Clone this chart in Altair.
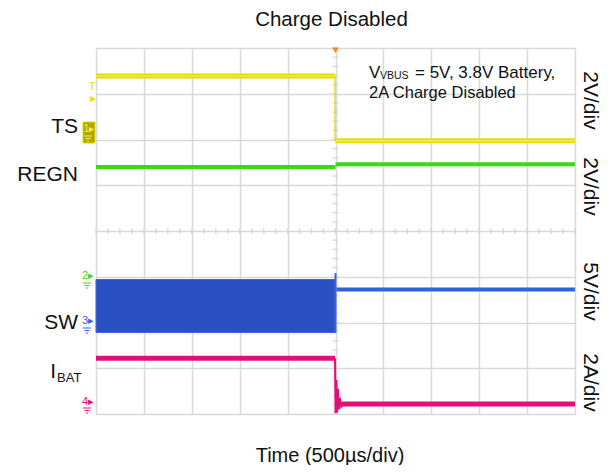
import altair as alt
import pandas as pd

# ---- data (time in divisions 0..10 at 500 µs/div, amplitude in screen divisions 0..8)
ts_high_x = [0.0, 4.99]
ts_high_y = [7.39, 7.39]
ts_edge_x = [4.99, 4.99]
ts_edge_y = [7.39, 5.97]
ts_low_x = [5.0, 10.0]
ts_low_y = [5.97, 5.97]

regn_before_x = [0.0, 5.0]
regn_before_y = [5.40, 5.40]
regn_after_x = [5.0, 10.0]
regn_after_y = [5.46, 5.46]

sw_band_x = [0.0, 5.0]
sw_band_lo = [1.78, 1.78]
sw_band_hi = [2.94, 2.94]
sw_edge_x = [5.0, 5.0]
sw_edge_y = [1.78, 3.08]
sw_after_x = [5.02, 10.0]
sw_after_y = [2.72, 2.72]

ibat_before_x = [0.0, 4.99]
ibat_before_y = [1.22, 1.22]
ibat_edge_x = [4.99, 5.0, 5.02, 5.03, 5.05, 5.07, 5.09, 5.12, 5.16]
ibat_edge_y = [1.22, 0.02, 0.75, 0.03, 0.55, 0.10, 0.35, 0.16, 0.22]
ibat_after_x = [5.1, 10.0]
ibat_after_y = [0.22, 0.22]

grid_x = list(range(0, 11))
grid_y = list(range(0, 9))
minor_x = [i / 4 for i in range(0, 41)]
minor_y = [i / 5 for i in range(0, 41)]

left_labels = ["TS", "REGN", "SW"]
right_labels = ["2V/div", "2V/div", "5V/div", "2A/div"]

W, H = 479, 366
XS = alt.Scale(domain=[0, 10], nice=False, zero=False)
YS = alt.Scale(domain=[0, 8], nice=False, zero=False)
XAX = alt.Axis(values=grid_x, labels=False, ticks=False, domain=False, title=None,
               grid=True, gridColor="#d9d9d9", gridWidth=1.5)
YAX = alt.Axis(values=grid_y, labels=False, ticks=False, domain=False, title=None,
               grid=True, gridColor="#d9d9d9", gridWidth=1.5)


def line(xs, ys, color, width):
    df = pd.DataFrame({"x": xs, "y": ys, "o": list(range(len(xs)))})
    return alt.Chart(df).mark_line(color=color, strokeWidth=width, clip=False).encode(
        x=alt.X("x:Q", scale=XS, axis=XAX),
        y=alt.Y("y:Q", scale=YS, axis=YAX),
        order="o:Q",
    )


ticks_h = alt.Chart(pd.DataFrame({"x": minor_x, "y": [4] * len(minor_x)})).mark_tick(
    orient="vertical", size=6, thickness=1.5, color="#d0d0d0"
).encode(x=alt.X("x:Q", scale=XS, axis=XAX), y=alt.Y("y:Q", scale=YS, axis=YAX))
ticks_v = alt.Chart(pd.DataFrame({"x": [5] * len(minor_y), "y": minor_y})).mark_tick(
    orient="horizontal", size=6, thickness=1.5, color="#d0d0d0"
).encode(x=alt.X("x:Q", scale=XS, axis=XAX), y=alt.Y("y:Q", scale=YS, axis=YAX))

band_df = pd.DataFrame({"x": [sw_band_x[0]], "x2": [sw_band_x[1]],
                        "lo": [sw_band_lo[0]], "hi": [sw_band_hi[0]]})
band = alt.Chart(band_df).mark_rect(color="#2a50c4", stroke="#3a66dc", strokeWidth=1).encode(
    x=alt.X("x:Q", scale=XS, axis=XAX), x2="x2:Q",
    y=alt.Y("lo:Q", scale=YS, axis=YAX), y2="hi:Q",
)

trig = alt.Chart(pd.DataFrame({"x": [5.0], "y": [7.95]})).mark_point(
    shape="triangle-down", filled=True, size=45, color="#f08c1e", opacity=1
).encode(x=alt.X("x:Q", scale=XS, axis=XAX), y=alt.Y("y:Q", scale=YS, axis=YAX))

layers = [
    ticks_h, ticks_v,
    band,
    line(sw_edge_x, sw_edge_y, "#3a66dc", 2),
    line(sw_after_x, sw_after_y, "#2f62e0", 4),
    line(ts_high_x, ts_high_y, "#e6dc00", 5),
    line(ts_high_x, ts_high_y, "#f2ec50", 1.5),
    line(ts_edge_x, ts_edge_y, "#d8d000", 1.2),
    line(ts_low_x, ts_low_y, "#e6dc00", 5),
    line(ts_low_x, ts_low_y, "#f2ec50", 1.5),
    line(regn_before_x, regn_before_y, "#33dd11", 4),
    line(regn_after_x, regn_after_y, "#33dd11", 4),
    line(ibat_before_x, ibat_before_y, "#e0107a", 5),
    line(ibat_edge_x, ibat_edge_y, "#e0107a", 2),
    line(ibat_after_x, ibat_after_y, "#e0107a", 5),
    trig,
]

# ---- text (pixel positions relative to plot origin at page (96, 48))
def txt(s, px, py, size=21, align="center", baseline="middle", angle=0, color="#111111"):
    t = alt.Chart(pd.DataFrame({"t": [s]})).mark_text(
        text=s, fontSize=size, font="Liberation Sans", align=align, baseline=baseline,
        angle=angle, color=color,
    ).encode(x=alt.value(px - 96), y=alt.value(py - 48))
    return t


def box(x1, x2, y1, y2, fill, stroke):
    return alt.Chart(pd.DataFrame({"a": [0]})).mark_rect(
        color=fill, stroke=stroke, strokeWidth=1, opacity=1
    ).encode(x=alt.value(x1 - 96), x2=alt.value(x2 - 96),
             y=alt.value(y1 - 48), y2=alt.value(y2 - 48))


def ground(cx, cy, color):
    # tiny ground symbol: three shrinking bars
    out = []
    for dy, half in ((0, 4), (2.5, 2.5), (5, 1)):
        out.append(alt.Chart(pd.DataFrame({"a": [0]})).mark_rule(color=color, strokeWidth=1).encode(
            x=alt.value(cx - half - 96), x2=alt.value(cx + half - 96), y=alt.value(cy + dy - 48)))
    return out


layers += [
    txt("Charge Disabled", 331.5, 19.5, size=20.5),
    txt("Time (500µs/div)", 330, 455.5, size=20),
    txt(left_labels[0], 78, 127, align="right"),
    txt(left_labels[1], 78, 175, align="right"),
    txt(left_labels[2], 78, 323, align="right"),
    txt("I", 56, 372, align="right"),
    txt("BAT", 57, 378, size=13, align="left"),
    txt(right_labels[0], 590, 100.5, angle=90),
    txt(right_labels[1], 590, 186.5, angle=90),
    txt(right_labels[2], 590, 291.5, angle=90),
    txt(right_labels[3], 590, 382.5, angle=90),
    txt("V", 369, 77.5, size=17, align="left", baseline="alphabetic"),
    txt("VBUS", 380, 79, size=10.5, align="left", baseline="alphabetic"),
    txt("= 5V, 3.8V Battery,", 415, 77.5, size=17, align="left", baseline="alphabetic"),
    txt("2A Charge Disabled", 369, 98, size=16.5, align="left", baseline="alphabetic"),
]

# channel markers left of the graticule
layers.append(box(83, 95, 122, 143, "#b3a600", "#e0d800"))
layers += [txt("1▸", 89, 129, size=10, color="#f5f060")]
layers += ground(88, 136, "#f5f060")
layers += [
    txt("T", 92, 87, size=11, color="#e8e000"),
    txt("▸", 93, 98, size=12, color="#e8e000"),
    txt("2▸", 88, 276, size=11, color="#33dd11"),
    txt("3▸", 88, 321, size=11, color="#2f62e0"),
    txt("4▸", 88, 402, size=11, color="#e0107a"),
]
layers += ground(87, 283, "#33dd11")
layers += ground(87, 328, "#2f62e0")
layers += ground(87, 408, "#e0107a")

chart = alt.layer(*layers).properties(
    width=W, height=H,
    autosize=alt.AutoSizeParams(type="none"),
    padding={"left": 88, "top": 40, "right": 30, "bottom": 51},
).configure_view(stroke="#8f8f8f", strokeWidth=2).configure(background="white")

chart.save("out.html", embed_options={"renderer": "svg", "actions": False})
